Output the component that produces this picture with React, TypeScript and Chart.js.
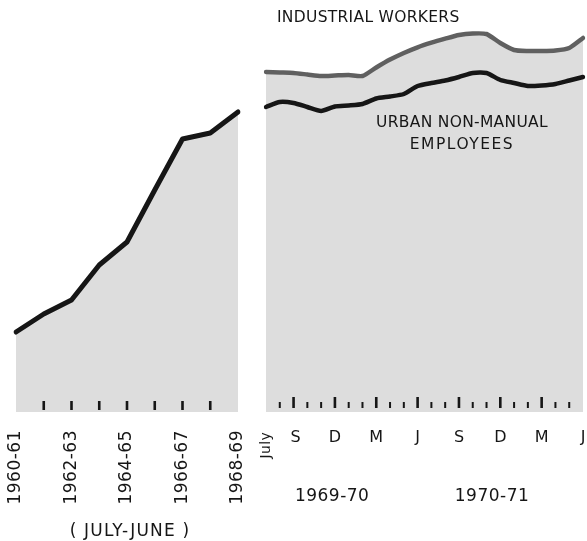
import React, { useEffect, useRef } from "react";
import { Chart, registerables } from "chart.js";

Chart.register(...registerables);

// ---- Data ----
const annualCategories = [
  "1960-61", "1961-62", "1962-63", "1963-64", "1964-65",
  "1965-66", "1966-67", "1967-68", "1968-69",
];
const annualValues = [80, 98, 112, 147, 170, 222, 273, 279, 300];
const annualTickLabels = ["1960-61", "", "1962-63", "", "1964-65", "", "1966-67", "", "1968-69"];

const monthCategories = [
  "Jul 1969", "Aug 1969", "Sep 1969", "Oct 1969", "Nov 1969", "Dec 1969",
  "Jan 1970", "Feb 1970", "Mar 1970", "Apr 1970", "May 1970", "Jun 1970",
  "Jul 1970", "Aug 1970", "Sep 1970", "Oct 1970", "Nov 1970", "Dec 1970",
  "Jan 1971", "Feb 1971", "Mar 1971", "Apr 1971", "May 1971", "Jun 1971",
];
const monthTickLabels = [
  "July", "", "S", "", "", "D", "", "", "M", "", "", "J",
  "", "", "S", "", "", "D", "", "", "M", "", "", "J",
];
const industrialWorkers = [
  340, 339.5, 339, 337.5, 336, 336.5, 337, 336, 344.5, 352.4, 359, 364.7,
  369.3, 373.3, 377, 378.5, 378, 369, 362, 361, 361, 361.5, 364, 374,
];
const urbanNonManual = [
  305, 310, 309, 305, 301, 305.5, 306.5, 308, 313.5, 315.5, 318, 326,
  329, 331.5, 335, 339, 339, 332, 329, 326, 326.5, 328, 331.5, 335,
];
const fiscalYearLabels = ["1969-70", "1970-71"];
const fiscalYearLabelAt = [4.8, 16.4];

const FILL = "#dddddd";
const INK = "#161616";
const FONT = "'DejaVu Sans', sans-serif";

const yScale = { display: false, min: 0, max: 412 };

function drawText(ctx: CanvasRenderingContext2D, text: string, x: number, y: number, size: number, spacing = 0, align: CanvasTextAlign = "center") {
  ctx.save();
  ctx.font = `${size}px ${FONT}`;
  (ctx as any).letterSpacing = `${spacing}px`;
  ctx.fillStyle = INK;
  ctx.textAlign = align;
  ctx.textBaseline = "middle";
  ctx.fillText(text, x, y);
  ctx.restore();
}

function drawRotated(ctx: CanvasRenderingContext2D, text: string, x: number, yTop: number, size: number, spacing = 0) {
  ctx.save();
  ctx.translate(x, yTop);
  ctx.rotate(-Math.PI / 2);
  ctx.font = `${size}px ${FONT}`;
  (ctx as any).letterSpacing = `${spacing}px`;
  ctx.fillStyle = INK;
  ctx.textAlign = "right";
  ctx.textBaseline = "middle";
  ctx.fillText(text, 0, 0);
  ctx.restore();
}

const annualPlugin = {
  id: "annualDecor",
  afterDatasetsDraw(chart: any) {
    const ctx = chart.ctx as CanvasRenderingContext2D;
    const x = chart.scales.x;
    const bottom = chart.chartArea.bottom;
    ctx.save();
    ctx.fillStyle = INK;
    for (let i = 1; i < annualCategories.length - 1; i++) {
      const px = x.getPixelForValue(i);
      ctx.fillRect(px - 1.3, bottom - 11, 2.6, 9);
    }
    ctx.restore();
    annualTickLabels.forEach((lab, i) => {
      if (!lab) return;
      drawRotated(ctx, lab, x.getPixelForValue(i), bottom + 18, 17, 0.5);
    });
    const mid = (x.getPixelForValue(0) + x.getPixelForValue(annualCategories.length - 1)) / 2;
    drawText(ctx, "( JULY-JUNE )", mid + 3, bottom + 120, 17, 1.2);
  },
};

const monthlyPlugin = {
  id: "monthlyDecor",
  afterDatasetsDraw(chart: any) {
    const ctx = chart.ctx as CanvasRenderingContext2D;
    const x = chart.scales.x;
    const area = chart.chartArea;
    const bottom = area.bottom;
    ctx.save();
    ctx.fillStyle = INK;
    for (let i = 1; i < monthCategories.length - 1; i++) {
      const px = x.getPixelForValue(i);
      const tall = i % 3 === 2;
      if (tall) ctx.fillRect(px - 1.3, bottom - 15, 2.6, 11);
      else ctx.fillRect(px - 1, bottom - 10, 2, 6);
    }
    ctx.restore();
    monthTickLabels.forEach((lab, i) => {
      if (!lab) return;
      const px = x.getPixelForValue(i);
      if (lab === "July") drawRotated(ctx, lab, px, bottom + 20, 14, 0.3);
      else drawText(ctx, lab, px + (i === 2 ? 2 : 0), bottom + 26, 16);
    });
    fiscalYearLabels.forEach((lab, i) => {
      drawText(ctx, lab, x.getPixelForValue(fiscalYearLabelAt[i]), bottom + 85, 17, 0.5);
    });
    // series annotations (positions relative to the plot area)
    drawText(ctx, "INDUSTRIAL WORKERS", area.left + 11, 18, 15.5, 0.3, "left");
    drawText(ctx, "URBAN NON-MANUAL", area.left + 196, 123, 15.5, 0.3);
    drawText(ctx, "EMPLOYEES", area.left + 196, 145, 15.5, 1.5);
  },
};

export default function App() {
  const leftRef = useRef<HTMLCanvasElement | null>(null);
  const rightRef = useRef<HTMLCanvasElement | null>(null);

  useEffect(() => {
    document.body.style.margin = "0";
    const left = new Chart(leftRef.current!, {
      type: "line",
      data: {
        labels: annualCategories,
        datasets: [
          {
            label: "Annual",
            data: annualValues,
            borderColor: INK,
            borderWidth: 5,
            backgroundColor: FILL,
            fill: "origin",
            pointRadius: 0,
            tension: 0,
            borderJoinStyle: "round",
            borderCapStyle: "round",
          },
        ],
      },
      options: {
        animation: false,
        responsive: false,
        layout: { padding: { left: 16, right: 12, top: 0, bottom: 129 } },
        scales: {
          x: { display: false },
          y: yScale,
        },
        plugins: { legend: { display: false }, tooltip: { enabled: false } },
      },
      plugins: [annualPlugin],
    });

    const right = new Chart(rightRef.current!, {
      type: "line",
      data: {
        labels: monthCategories,
        datasets: [
          {
            label: "Urban non-manual employees",
            data: urbanNonManual,
            borderColor: INK,
            borderWidth: 4.5,
            fill: false,
            pointRadius: 0,
            tension: 0.2,
            borderJoinStyle: "round",
            borderCapStyle: "round",
          },
          {
            label: "Industrial workers",
            data: industrialWorkers,
            borderColor: "#606060",
            borderWidth: 4.5,
            backgroundColor: FILL,
            fill: "origin",
            pointRadius: 0,
            tension: 0.2,
            borderJoinStyle: "round",
            borderCapStyle: "round",
          },
        ],
      },
      options: {
        animation: false,
        responsive: false,
        layout: { padding: { left: 16, right: 4, top: 0, bottom: 129 } },
        scales: {
          x: { display: false },
          y: yScale,
        },
        plugins: {
          legend: { display: false },
          tooltip: { enabled: false },
          filler: { drawTime: "beforeDatasetsDraw" },
        } as any,
      },
      plugins: [monthlyPlugin],
    });

    return () => {
      left.destroy();
      right.destroy();
    };
  }, []);

  return (
    <div style={{ position: "absolute", left: 0, top: 0, width: 587, height: 541, background: "#fff", overflow: "hidden" }}>
      <canvas ref={leftRef} width={250} height={541} style={{ position: "absolute", left: 0, top: 0, width: 250, height: 541 }} />
      <canvas ref={rightRef} width={337} height={541} style={{ position: "absolute", left: 250, top: 0, width: 337, height: 541 }} />
    </div>
  );
}
